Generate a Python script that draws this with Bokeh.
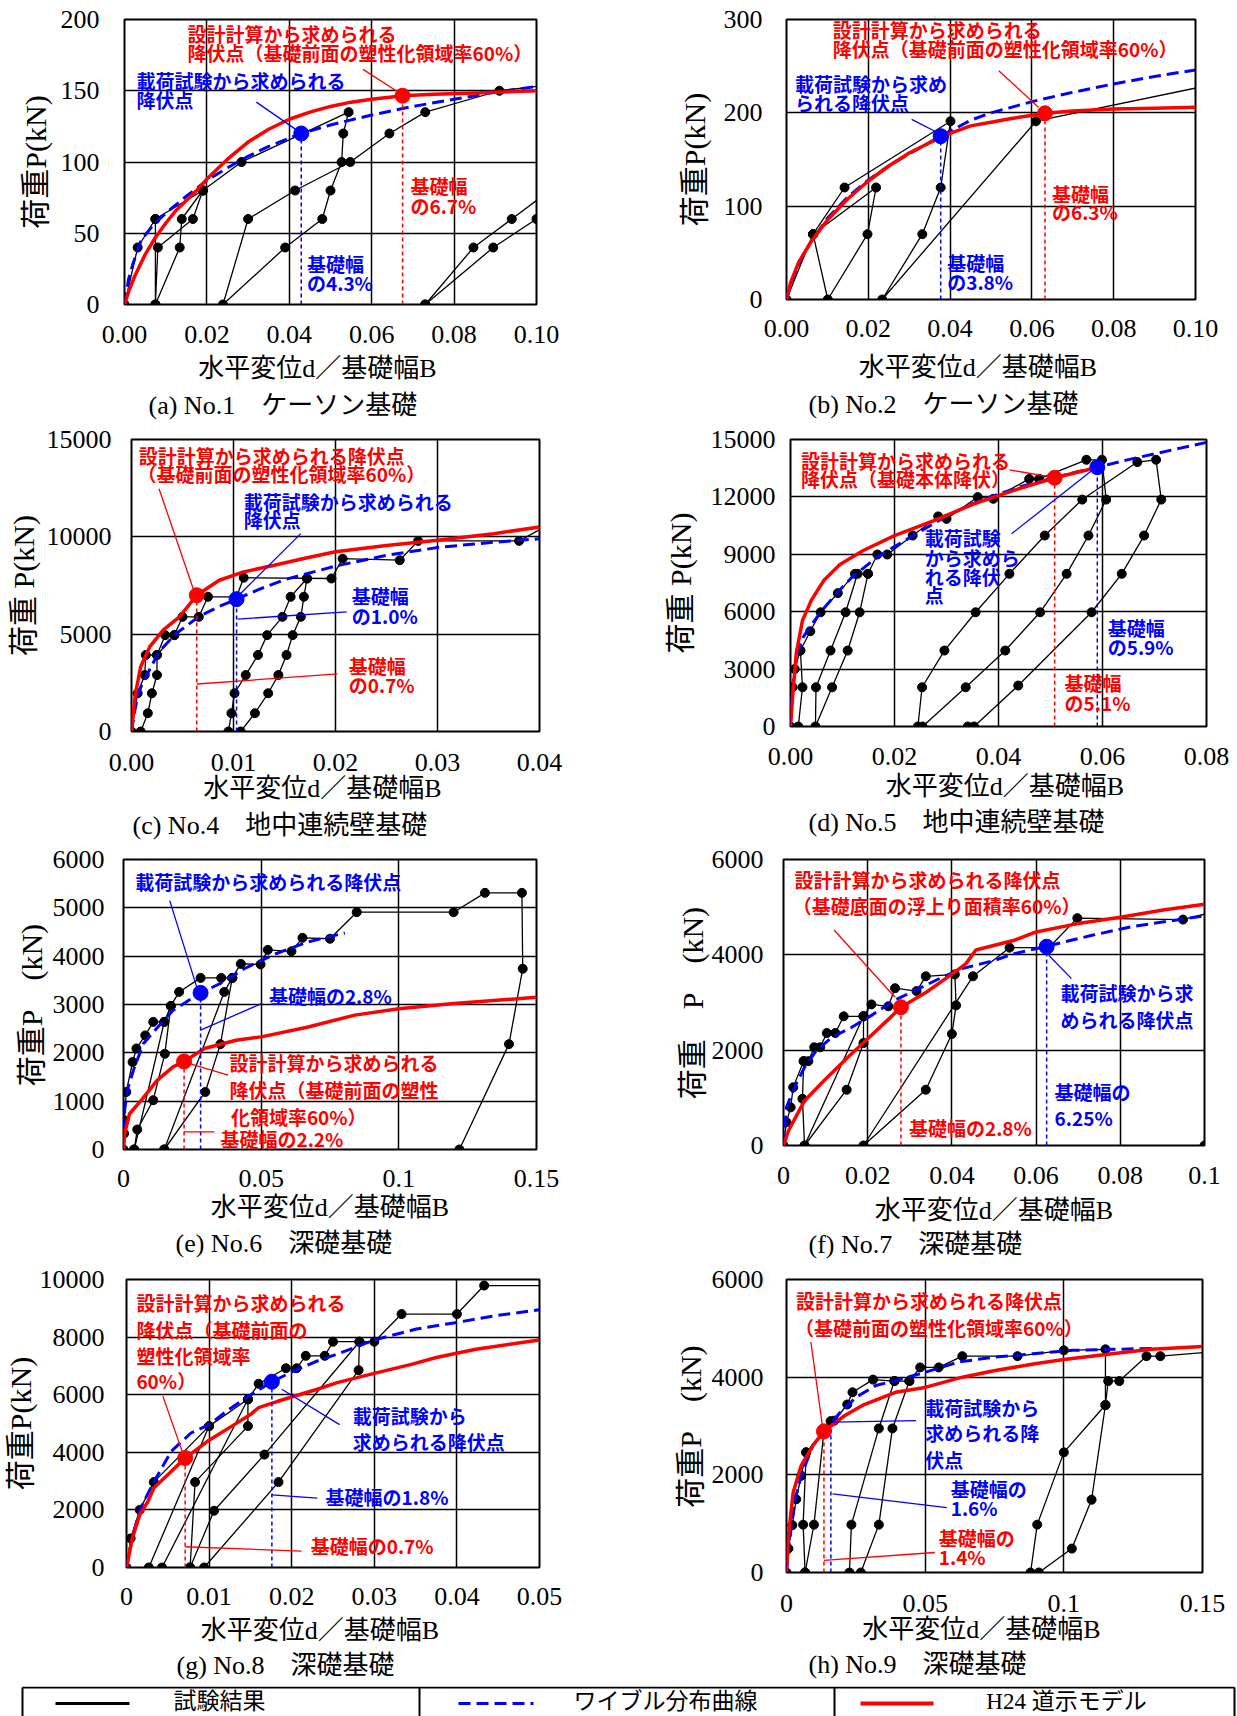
from bokeh.plotting import figure
from bokeh.models import Range1d, FixedTicker, Label, Title
from bokeh.layouts import column, row
from bokeh.embed import file_html
from bokeh.resources import INLINE

SERIF = "Liberation Serif, Noto Sans CJK JP"
GOTHIC = "Noto Sans CJK JP"
RED = "#ff0000"
BLUE = "#0000ff"
XTITLE = "水平変位d／基礎幅B"
LEGEND_LABELS = ["試験結果", "ワイブル分布曲線", "H24 道示モデル"]

# ---------------- (a) No.1 ----------------
a_xticks = [0, 0.02, 0.04, 0.06, 0.08, 0.10]
a_xlabels = ["0.00", "0.02", "0.04", "0.06", "0.08", "0.10"]
a_yticks = [0, 50, 100, 150, 200]
a_ylabels = ["0", "50", "100", "150", "200"]
a_test = [
    ([0, 0.0032, 0.0075, 0.019, 0.0284, 0.0544, 0.0531, 0.0527, 0.050, 0.048, 0.039, 0.0239, 0.030, 0.0414, 0.0548, 0.0643, 0.073, 0.091, 0.106],
     [0, 40, 60, 80, 100, 135, 120, 100, 80, 60, 40, 0, 60, 80, 100, 120, 135, 150, 155]),
    ([0.0075, 0.0075, 0.0081, 0.0166, 0.019], [60, 0, 40, 60, 80]),
    ([0.0075, 0.0134, 0.0139, 0.019], [0, 40, 60, 80]),
    ([0.073, 0.0847, 0.094, 0.106], [0, 40, 60, 86]),
    ([0.073, 0.0895, 0.100], [0, 40, 60]),
]
a_wb_x = [0, 0.001, 0.002, 0.004, 0.007, 0.01, 0.015, 0.02, 0.025, 0.03, 0.035, 0.0429, 0.05, 0.06, 0.07, 0.08, 0.09, 0.10]
a_wb_y = [0, 18, 28, 45, 56, 64, 76, 87, 96, 104, 111, 120, 126, 133, 139, 144, 149, 153]
a_h24_x = [0, 0.001, 0.0025, 0.005, 0.0075, 0.01, 0.0125, 0.015, 0.0175, 0.02, 0.025, 0.03, 0.035, 0.04, 0.045, 0.05, 0.055, 0.06, 0.0675, 0.075, 0.085, 0.10]
a_h24_y = [0, 9, 20, 35, 47, 57, 66, 73, 80, 88, 102, 114, 123, 130, 135, 139, 142, 144, 146.5, 147.5, 148.5, 150]
a_yield_test = (0.0429, 120)
a_yield_design = (0.0675, 146.5)

# ---------------- (b) No.2 ----------------
b_xticks = [0, 0.02, 0.04, 0.06, 0.08, 0.10]
b_xlabels = ["0.00", "0.02", "0.04", "0.06", "0.08", "0.10"]
b_yticks = [0, 100, 200, 300]
b_ylabels = ["0", "100", "200", "300"]
b_test = [
    ([0, 0.0065, 0.0142, 0.0401, 0.0377, 0.0332, 0.0234, 0.061, 0.106], [0, 70, 120, 191, 120, 70, 0, 191, 232]),
    ([0.0065, 0.0101, 0.0198, 0.0219, 0.0065], [70, 0, 70, 120, 70]),
]
b_wb_x = [0, 0.001, 0.003, 0.006, 0.01, 0.015, 0.02, 0.025, 0.03, 0.0377, 0.045, 0.05, 0.06, 0.07, 0.08, 0.09, 0.10]
b_wb_y = [0, 15, 38, 62, 87, 110, 128, 143, 156, 175, 192, 200, 212, 222, 231, 239, 246]
b_h24_x = [0, 0.001, 0.003, 0.006, 0.01, 0.015, 0.02, 0.025, 0.03, 0.035, 0.04, 0.045, 0.05, 0.055, 0.0632, 0.07, 0.08, 0.09, 0.10]
b_h24_y = [0, 18, 40, 62, 85, 108, 127, 143, 157, 168, 178, 186, 190, 194, 199.5, 202, 204, 205, 206]
b_yield_test = (0.0377, 175)
b_yield_design = (0.0632, 199.5)

# ---------------- (c) No.4 ----------------
c_xticks = [0, 0.01, 0.02, 0.03, 0.04]
c_xlabels = ["0.00", "0.01", "0.02", "0.03", "0.04"]
c_yticks = [0, 5000, 10000, 15000]
c_ylabels = ["0", "5000", "10000", "15000"]
c_test = [
    ([0, 0.0006, 0.0013, 0.0014, 0.0025, 0.0033, 0.0042, 0.0050, 0.0066, 0.0075, 0.0103, 0.0110, 0.0196, 0.0207, 0.0263, 0.0281, 0.0380, 0.0412],
     [0, 1965, 2900, 3930, 3930, 4950, 4950, 5890, 5890, 6920, 6920, 7900, 7860, 8880, 8800, 9790, 9790, 10700]),
    ([0.0009, 0.0016, 0.0020, 0.0025, 0.0025, 0.0042], [0, 940, 1965, 2900, 3930, 4950]),
    ([0.0095, 0.0098, 0.0101, 0.0112, 0.0124, 0.0133, 0.0148, 0.0156, 0.0172], [0, 940, 1965, 2900, 3930, 4950, 5890, 6920, 7860]),
    ([0.0172, 0.0169, 0.0166, 0.0158, 0.0152, 0.0144, 0.0134, 0.0121, 0.0107], [7860, 6920, 5890, 4950, 3930, 2900, 1965, 940, 0]),
]
c_wb_x = [0, 0.0003, 0.0006, 0.001, 0.0016, 0.0027, 0.0043, 0.0066, 0.0085, 0.0103, 0.0125, 0.015, 0.02, 0.025, 0.03, 0.035, 0.04]
c_wb_y = [0, 1000, 1800, 2400, 3000, 4100, 5000, 5900, 6400, 6800, 7300, 7800, 8500, 9050, 9450, 9700, 9900]
c_h24_x = [0, 0.0002, 0.0004, 0.0009, 0.0018, 0.0031, 0.0047, 0.0064, 0.0086, 0.011, 0.014, 0.017, 0.02, 0.025, 0.03, 0.0355, 0.04]
c_h24_y = [0, 1100, 1965, 3330, 4360, 5210, 5890, 7000, 7770, 8200, 8540, 8900, 9230, 9550, 9820, 10160, 10500]
c_yield_test = (0.0103, 6800)
c_yield_design = (0.0064, 7000)

# ---------------- (d) No.5 ----------------
d_xticks = [0, 0.02, 0.04, 0.06, 0.08]
d_xlabels = ["0.00", "0.02", "0.04", "0.06", "0.08"]
d_yticks = [0, 3000, 6000, 9000, 12000, 15000]
d_ylabels = ["0", "3000", "6000", "9000", "12000", "15000"]
d_test = [
    ([0, 0.0004, 0.0008, 0.0019, 0.0038, 0.0058, 0.0091, 0.0124, 0.0149, 0.0167, 0.0186, 0.0235, 0.0284, 0.0300, 0.036, 0.039, 0.0459, 0.0478, 0.0569, 0.0599, 0.0607, 0.0573, 0.0531, 0.048, 0.0413, 0.0337, 0.0254],
     [0, 2050, 3000, 3970, 4980, 5970, 6970, 7980, 7980, 8990, 8990, 9980, 10980, 10850, 11990, 11900, 12940, 12940, 13940, 13940, 11860, 9980, 7980, 5970, 3970, 2050, 0]),
    ([0.0245, 0.0253, 0.0296, 0.0356, 0.0421, 0.0489, 0.0561, 0.0667, 0.0703, 0.0713, 0.068, 0.0637, 0.0579, 0.0438, 0.0353, 0.0341],
     [0, 2050, 3970, 5970, 7980, 9980, 11860, 13820, 13940, 11860, 9980, 7980, 5970, 2140, 0, 0]),
    ([0.0149, 0.0133, 0.011, 0.008, 0.0048, 0.0049, 0.0077, 0.0106, 0.0129], [7980, 5970, 3970, 2050, 0, 2050, 3970, 5970, 7980]),
    ([0.0015, 0.0023, 0.0019], [0, 2050, 3970]),
]
d_wb_x = [0, 0.0003, 0.0008, 0.0015, 0.0025, 0.004, 0.006, 0.009, 0.012, 0.0167, 0.02, 0.025, 0.03, 0.035, 0.04, 0.045, 0.05, 0.055, 0.059, 0.065, 0.07, 0.075, 0.08]
d_wb_y = [0, 1800, 3000, 4000, 4700, 5300, 6050, 7000, 7850, 8850, 9400, 10200, 11000, 11650, 12150, 12600, 12950, 13300, 13550, 13950, 14250, 14550, 14850]
d_h24_x = [0, 0.0004, 0.0011, 0.0023, 0.004, 0.0064, 0.0095, 0.014, 0.02, 0.0277, 0.0353, 0.0428, 0.0508, 0.058]
d_h24_y = [0, 1530, 3800, 5540, 6590, 7630, 8470, 9200, 9980, 10770, 11640, 12330, 13000, 13470]
d_yield_test = (0.059, 13550)
d_yield_design = (0.0508, 13000)

# ---------------- (e) No.6 ----------------
e_xticks = [0, 0.05, 0.1, 0.15]
e_xlabels = ["0", "0.05", "0.1", "0.15"]
e_yticks = [0, 1000, 2000, 3000, 4000, 5000, 6000]
e_ylabels = ["0", "1000", "2000", "3000", "4000", "5000", "6000"]
e_test = [
    ([0, 0.0002, 0.0003, 0.001, 0.0033, 0.0047, 0.0079, 0.0108, 0.0148, 0.0172, 0.0202, 0.028, 0.0355, 0.0395, 0.0426, 0.0498, 0.0524, 0.061, 0.065, 0.075, 0.0847, 0.1199, 0.1313, 0.1447, 0.145, 0.14, 0.122],
     [0, 330, 606, 1190, 1810, 2090, 2360, 2640, 2640, 2970, 3260, 3550, 3550, 3550, 3840, 3830, 4130, 4100, 4380, 4360, 4910, 4910, 5310, 5310, 3740, 2180, 0]),
    ([0.0172, 0.015, 0.0108, 0.005, 0.0039], [2970, 1980, 1020, 413, 0]),
    ([0.0039, 0.0148], [0, 2640]),
    ([0.0395, 0.0352, 0.0297, 0.0148], [3550, 2180, 1190, 0]),
    ([0.0148, 0.0366, 0.0395], [0, 3260, 3550]),
]
e_wb_x = [0, 0.0004, 0.0015, 0.0036, 0.0072, 0.0115, 0.018, 0.028, 0.035, 0.0438, 0.0553, 0.0667, 0.0804]
e_wb_y = [0, 810, 1250, 1640, 2190, 2470, 2880, 3240, 3430, 3740, 4050, 4290, 4480]
e_h24_x = [0, 0.0004, 0.0022, 0.0065, 0.0122, 0.018, 0.022, 0.0294, 0.0409, 0.05, 0.0667, 0.084, 0.1, 0.12, 0.15]
e_h24_y = [0, 330, 740, 1020, 1430, 1710, 1820, 2090, 2260, 2330, 2530, 2780, 2910, 3020, 3150]
e_yield_test = (0.028, 3240)
e_yield_design = (0.022, 1820)

# ---------------- (f) No.7 ----------------
f_xticks = [0, 0.02, 0.04, 0.06, 0.08, 0.1]
f_xlabels = ["0", "0.02", "0.04", "0.06", "0.08", "0.1"]
f_yticks = [0, 2000, 4000, 6000]
f_ylabels = ["0", "2000", "4000", "6000"]
f_test = [
    ([0, 0.0007, 0.0017, 0.0023, 0.0048, 0.0059, 0.0073, 0.0087, 0.0103, 0.0123, 0.0143, 0.019, 0.0209, 0.0249, 0.0265, 0.0316, 0.0338, 0.0407, 0.041, 0.040, 0.0338, 0.019, 0.045, 0.0537, 0.063, 0.0698, 0.0949, 0.106],
     [0, 490, 800, 1220, 1770, 1770, 2060, 2060, 2360, 2360, 2710, 2710, 2960, 2920, 3300, 3240, 3550, 3590, 2940, 2340, 1170, 0, 3550, 4150, 4150, 4770, 4740, 4990]),
    ([0.019, 0.019, 0.015, 0.005, 0.0045, 0.0048], [2710, 2150, 1170, 0, 980, 1770]),
    ([0.005, 0.019], [0, 2710]),
    ([0.1], [0]),
]
f_wb_x = [0, 0.0007, 0.0026, 0.005, 0.0078, 0.0115, 0.0162, 0.0209, 0.0265, 0.0321, 0.0377, 0.0424, 0.05, 0.0546, 0.062, 0.0733, 0.0827, 0.1]
f_wb_y = [0, 800, 1220, 1640, 1990, 2270, 2480, 2730, 3050, 3290, 3530, 3710, 3880, 4020, 4170, 4410, 4590, 4820]
f_h24_x = [0, 0.0012, 0.005, 0.0096, 0.0153, 0.02, 0.0246, 0.0279, 0.034, 0.0396, 0.0433, 0.0457, 0.0546, 0.06, 0.0696, 0.08, 0.0902, 0.1]
f_h24_y = [0, 315, 940, 1360, 1850, 2240, 2620, 2900, 3220, 3570, 3810, 4100, 4300, 4480, 4650, 4790, 4940, 5060]
f_yield_test = (0.0625, 4170)
f_yield_design = (0.0279, 2900)

# ---------------- (g) No.8 ----------------
g_xticks = [0, 0.01, 0.02, 0.03, 0.04, 0.05]
g_xlabels = ["0", "0.01", "0.02", "0.03", "0.04", "0.05"]
g_yticks = [0, 2000, 4000, 6000, 8000, 10000]
g_ylabels = ["0", "2000", "4000", "6000", "8000", "10000"]
g_test = [
    ([0, 0.0005, 0.0016, 0.0033, 0.01, 0.0147, 0.016, 0.0193, 0.0206, 0.0217, 0.024, 0.025, 0.030, 0.0333, 0.040, 0.0433, 0.056],
     [0, 1010, 2000, 2965, 4910, 5840, 6380, 6920, 6920, 7350, 7350, 7840, 7840, 8800, 8800, 9790, 9790]),
    ([0.01, 0.0027], [4910, 0]),
    ([0.0043, 0.0147], [0, 5840]),
    ([0.0077, 0.0083, 0.0147, 0.0147], [0, 2965, 4910, 5840]),
    ([0.0077, 0.0106, 0.0167, 0.0282], [0, 1970, 3920, 7840]),
    ([0.0094, 0.0184, 0.0281, 0.0282], [0, 2965, 6850, 7840]),
]
g_wb_x = [0, 0.0007, 0.0016, 0.0033, 0.0054, 0.0078, 0.01, 0.0124, 0.0145, 0.0176, 0.0203, 0.0231, 0.026, 0.03, 0.0351, 0.04, 0.0446, 0.05]
g_wb_y = [0, 1010, 2000, 2965, 4030, 4670, 4960, 5490, 5900, 6450, 6830, 7170, 7460, 7900, 8280, 8510, 8740, 8950]
g_h24_x = [0, 0.0007, 0.0016, 0.0026, 0.0033, 0.005, 0.0071, 0.0098, 0.0131, 0.015, 0.016, 0.0184, 0.0231, 0.0255, 0.03, 0.0346, 0.0375, 0.0423, 0.05]
g_h24_y = [0, 1010, 1830, 2290, 2760, 3220, 3800, 4380, 4970, 5310, 5550, 5780, 6190, 6420, 6740, 7060, 7290, 7580, 7900]
g_yield_test = (0.0176, 6450)
g_yield_design = (0.0071, 3800)

# ---------------- (h) No.9 ----------------
h_xticks = [0, 0.05, 0.1, 0.15]
h_xlabels = ["0", "0.05", "0.1", "0.15"]
h_yticks = [0, 2000, 4000, 6000]
h_ylabels = ["0", "2000", "4000", "6000"]
h_test = [
    ([0, 0.0007, 0.0021, 0.0035, 0.0053, 0.0071, 0.0135, 0.0159, 0.0173, 0.0219, 0.0238, 0.0312, 0.0389, 0.0443, 0.0482, 0.0549, 0.0634, 0.0833, 0.1, 0.115, 0.115, 0.11, 0.1029, 0.091],
     [0, 490, 970, 1500, 1980, 2460, 2890, 3100, 3110, 3440, 3690, 3950, 3920, 3920, 4200, 4200, 4430, 4430, 4550, 4570, 3430, 1490, 490, 0]),
    ([0.088, 0.0904, 0.1, 0.115, 0.116, 0.12, 0.1298, 0.1348, 0.156], [0, 980, 2460, 3430, 3920, 3920, 4430, 4430, 4530]),
    ([0.0067, 0.006, 0.0071], [0, 980, 2460]),
    ([0.0067, 0.0099, 0.0135], [0, 980, 2890]),
    ([0.0227, 0.0234, 0.0333, 0.0389], [0, 980, 2950, 3920]),
    ([0.0268, 0.0333, 0.0382, 0.0443], [0, 980, 2950, 3920]),
]
h_wb_x = [0, 0.0007, 0.0031, 0.0053, 0.0095, 0.0135, 0.0194, 0.0251, 0.0322, 0.0393, 0.05, 0.062, 0.0748, 0.089, 0.1032, 0.1174, 0.1337]
h_wb_y = [0, 490, 1500, 1980, 2600, 2890, 3280, 3590, 3830, 3930, 4100, 4310, 4410, 4480, 4550, 4570, 4590]
h_h24_x = [0, 0.0007, 0.0024, 0.0053, 0.0095, 0.0135, 0.0209, 0.028, 0.0393, 0.05, 0.0634, 0.0748, 0.089, 0.1, 0.1174, 0.1315, 0.15]
h_h24_y = [0, 750, 1640, 2190, 2600, 2890, 3210, 3440, 3690, 3790, 4000, 4130, 4270, 4360, 4480, 4570, 4630]
h_yield_test = (0.016, 3000)
h_yield_design = (0.0135, 2890)


def panel(cfg):
    fw, fh = cfg["size"]
    bl, br, bt, bb = cfg["border"]
    p = figure(width=fw, height=fh, x_range=Range1d(*cfg["xr"]), y_range=Range1d(*cfg["yr"]),
               output_backend="svg", toolbar_location=None,
               min_border_left=bl, min_border_right=br, min_border_top=bt, min_border_bottom=bb)
    p.background_fill_color = "white"
    p.border_fill_color = "white"
    p.outline_line_color = "black"
    p.outline_line_width = 2
    xt = FixedTicker(ticks=cfg["xticks"])
    yt = FixedTicker(ticks=cfg["yticks"])
    p.xaxis.ticker = xt
    p.yaxis.ticker = yt
    p.xgrid.ticker = xt
    p.ygrid.ticker = yt
    p.xaxis.major_label_overrides = dict(zip(cfg["xticks"], cfg["xlabels"]))
    p.yaxis.major_label_overrides = dict(zip(cfg["yticks"], cfg["ylabels"]))
    for ax in (p.xaxis[0], p.yaxis[0]):
        ax.axis_line_color = None
        ax.major_tick_line_color = None
        ax.minor_tick_line_color = None
        ax.major_tick_out = 0
        ax.major_tick_in = 0
        ax.minor_tick_out = 0
        ax.major_label_text_font = "Liberation Serif"
        ax.major_label_text_font_size = "26px"
        ax.major_label_text_color = "black"
        ax.axis_label_text_font = SERIF
        ax.axis_label_text_font_style = "normal"
        ax.axis_label_text_color = "black"
    p.xaxis.axis_label_text_font_size = "26px"
    p.yaxis.axis_label_text_font_size = "30px"
    p.xaxis.axis_label = cfg["xtitle"]
    p.yaxis.axis_label = cfg["ylab"]
    p.xaxis.major_label_standoff = cfg["xstand"]
    p.yaxis.major_label_standoff = cfg["ystand"]
    p.xaxis.axis_label_standoff = cfg["xlstand"]
    p.yaxis.axis_label_standoff = cfg["ylstand"]
    for g in (p.xgrid[0], p.ygrid[0]):
        g.grid_line_color = "black"
        g.grid_line_width = 1.5
    p.add_layout(Title(text=cfg["caption"], align="left", offset=cfg["capoff"], text_font=SERIF,
                       text_font_size="26px", text_font_style="normal", text_color="black",
                       standoff=cfg["capstand"]), "below")

    for xs, ys in cfg["test"]:
        p.line(xs, ys, line_color="black", line_width=1.3)
        p.scatter(xs, ys, size=9, color="black")
    p.line(cfg["wb"][0], cfg["wb"][1], line_color=BLUE, line_width=3, line_dash="12 6")
    p.line(cfg["h24"][0], cfg["h24"][1], line_color=RED, line_width=3.5)
    tx, ty = cfg["ytest"]
    dx, dy = cfg["ydesign"]
    p.segment([tx], [0], [tx], [ty], line_color=BLUE, line_width=1.5, line_dash="4 3")
    p.segment([dx], [0], [dx], [dy], line_color=RED, line_width=1.5, line_dash="4 3")
    if cfg.get("show_test_pt", True):
        p.scatter([tx], [ty], size=15, color=BLUE)
    p.scatter([dx], [dy], size=15, color=RED)
    for lx0, lx1, ly0, ly1, c in cfg["leaders"]:
        p.line([lx0, lx1], [ly0, ly1], line_color=c, line_width=1.3)
    # white boxes first, then all texts on top
    for text, x, y, c, bg in cfg["notes"]:
        if bg:
            p.add_layout(Label(x=x, y=y, text=text, text_alpha=0, text_font=GOTHIC, text_font_size="19px",
                               text_font_style="bold", text_baseline="middle", text_align="left",
                               background_fill_color="white"))
    for text, x, y, c, bg in cfg["notes"]:
        p.add_layout(Label(x=x, y=y, text=text, text_color=c, text_font=GOTHIC, text_font_size="19px",
                           text_font_style="bold", text_baseline="middle", text_align="left"))
    return p


R, B = RED, BLUE
SHIFT_L = "\u3000"   # trailing ideographic space: nudges the centred axis title left
SHIFT_R = "\u2002"   # leading en space: nudges it right
cfgs = {}
cfgs["a"] = dict(size=(620, 426), border=(124, 84, 19, 122), xr=(0, 0.10), yr=(0, 200),
                 xticks=a_xticks, xlabels=a_xlabels, yticks=a_yticks, ylabels=a_ylabels,
                 xtitle=XTITLE + SHIFT_L,
                 ylab="荷重P(kN)", caption="(a) No.1　ケーソン基礎", capoff=24,
                 xstand=21, xlstand=8, capstand=7, ystand=25, ylstand=6,
                 test=a_test, wb=(a_wb_x, a_wb_y), h24=(a_h24_x, a_h24_y),
                 ytest=a_yield_test, ydesign=a_yield_design,
                 leaders=[(0.0579, 0.0665, 165, 149, R), (0.032, 0.042, 142, 122, B)],
                 notes=[("設計計算から求められる", 0.0153, 190, R, True),
                        ("降伏点（基礎前面の塑性化領域率60%）", 0.0153, 177, R, True),
                        ("載荷試験から求められる", 0.0029, 157, B, False),
                        ("降伏点", 0.0029, 144, B, False),
                        ("基礎幅", 0.0694, 83.5, R, False), ("の6.7%", 0.0694, 69.5, R, False),
                        ("基礎幅", 0.0443, 28.5, B, False), ("の4.3%", 0.0443, 15.7, B, False)])
cfgs["b"] = dict(size=(617, 421), border=(166, 42, 19, 122), xr=(0, 0.10), yr=(0, 300),
                 xticks=b_xticks, xlabels=b_xlabels, yticks=b_yticks, ylabels=b_ylabels,
                 xtitle=XTITLE + SHIFT_L,
                 ylab="荷重P(kN)", caption="(b) No.2　ケーソン基礎", capoff=22,
                 xstand=20, xlstand=13, capstand=6, ystand=24, ylstand=10,
                 test=b_test, wb=(b_wb_x, b_wb_y), h24=(b_h24_x, b_h24_y),
                 ytest=b_yield_test, ydesign=b_yield_design,
                 leaders=[(0.0519, 0.0616, 245, 206, R), (0.0306, 0.0364, 193, 180, B)],
                 notes=[("設計計算から求められる", 0.0113, 289, R, True),
                        ("降伏点（基礎前面の塑性化領域率60%）", 0.0113, 269, R, True),
                        ("載荷試験から求め", 0.0021, 231, B, True),
                        ("られる降伏点", 0.0021, 211, B, True),
                        ("基礎幅", 0.0649, 113.5, R, False), ("の6.3%", 0.0649, 94, R, False),
                        ("基礎幅", 0.0393, 39.4, B, False), ("の3.8%", 0.0393, 19.7, B, False)])
cfgs["c"] = dict(size=(620, 419), border=(131, 81, 13, 114), xr=(0, 0.04), yr=(0, 15000),
                 xticks=c_xticks, xlabels=c_xlabels, yticks=c_yticks, ylabels=c_ylabels,
                 xtitle=XTITLE + SHIFT_L,
                 ylab="荷重 P(kN)", caption="(c) No.4　地中連続壁基礎", capoff=1,
                 xstand=22, xlstand=0, capstand=7, ystand=20, ylstand=4,
                 test=c_test, wb=(c_wb_x, c_wb_y), h24=(c_h24_x, c_h24_y),
                 ytest=c_yield_test, ydesign=c_yield_design,
                 leaders=[(0.0027, 0.0061, 12470, 7260, R), (0.0166, 0.0107, 10165, 7090, B),
                          (0.0211, 0.0104, 6150, 5775, B), (0.0202, 0.0064, 2955, 2440, R)],
                 notes=[("設計計算から求められる降伏点", 0.0007, 14200, R, True),
                        ("（基礎前面の塑性化領域率60%）", 0.0006, 13270, R, True),
                        ("載荷試験から求められる", 0.011, 11790, B, True),
                        ("降伏点", 0.011, 10880, B, True),
                        ("基礎幅", 0.0216, 7000, B, False), ("の1.0%", 0.0216, 5980, B, False),
                        ("基礎幅", 0.0213, 3380, R, False), ("の0.7%", 0.0213, 2390, R, False)])
cfgs["d"] = dict(size=(617, 414), border=(170, 31, 13, 114), xr=(0, 0.08), yr=(0, 15000),
                 xticks=d_xticks, xlabels=d_xlabels, yticks=d_yticks, ylabels=d_ylabels,
                 xtitle=SHIFT_R + XTITLE,
                 ylab="荷重 P(kN)", caption="(d) No.5　地中連続壁基礎", capoff=18,
                 xstand=21, xlstand=4, capstand=5, ystand=15, ylstand=11,
                 test=d_test, wb=(d_wb_x, d_wb_y), h24=(d_h24_x, d_h24_y),
                 ytest=d_yield_test, ydesign=d_yield_design,
                 leaders=[(0.0421, 0.0504, 13410, 13030, R), (0.0425, 0.0584, 10070, 13470, B)],
                 notes=[("設計計算から求められる", 0.002, 13900, R, True),
                        ("降伏点（基礎本体降伏）", 0.002, 12940, R, True),
                        ("載荷試験", 0.0258, 9860, B, True), ("から求めら", 0.0258, 8850, B, True),
                        ("れる降伏", 0.0258, 7840, B, True), ("点", 0.0258, 6900, B, True),
                        ("基礎幅", 0.061, 5190, B, False), ("の5.9%", 0.061, 4180, B, False),
                        ("基礎幅", 0.0527, 2320, R, False), ("の5.1%", 0.0527, 1270, R, False)])
cfgs["e"] = dict(size=(620, 419), border=(123, 84, 14, 115), xr=(0, 0.15), yr=(0, 6000),
                 xticks=e_xticks, xlabels=e_xlabels, yticks=e_yticks, ylabels=e_ylabels,
                 xtitle=XTITLE,
                 ylab="荷重P　(kN)", caption="(e) No.6　深礎基礎", capoff=52,
                 xstand=20, xlstand=3, capstand=5, ystand=19, ylstand=2,
                 test=e_test, wb=(e_wb_x, e_wb_y), h24=(e_h24_x, e_h24_y),
                 ytest=e_yield_test, ydesign=e_yield_design,
                 leaders=[(0.0168, 0.0266, 5150, 3360, B), (0.0502, 0.028, 3020, 2470, B),
                          (0.0222, 0.038, 1810, 1540, R), (0.022, 0.033, 365, 365, R)],
                 notes=[("載荷試験から求められる降伏点", 0.0043, 5550, B, True),
                        ("基礎幅の2.8%", 0.0528, 3190, B, True),
                        ("設計計算から求められる", 0.0385, 1790, R, True),
                        ("降伏点（基礎前面の塑性", 0.0385, 1240, R, True),
                        ("化領域率60%）", 0.039, 690, R, True),
                        ("基礎幅の2.2%", 0.0352, 230, R, False)])
cfgs["f"] = dict(size=(617, 415), border=(163, 33, 14, 115), xr=(0, 0.1), yr=(0, 6000),
                 xticks=f_xticks, xlabels=f_xlabels, yticks=f_yticks, ylabels=f_ylabels,
                 xtitle=XTITLE,
                 ylab="荷重　P　(kN)", caption="(f) No.7　深礎基礎", capoff=25,
                 xstand=21, xlstand=9, capstand=1, ystand=20, ylstand=0,
                 test=f_test, wb=(f_wb_x, f_wb_y), h24=(f_h24_x, f_h24_y),
                 ytest=f_yield_test, ydesign=f_yield_design,
                 leaders=[(0.012, 0.0265, 4520, 3110, R), (0.0684, 0.063, 3500, 3990, B)],
                 notes=[("設計計算から求められる降伏点", 0.0026, 5570, R, True),
                        ("（基礎底面の浮上り面積率60%）", 0.0022, 5030, R, True),
                        ("載荷試験から求", 0.0658, 3200, B, True),
                        ("められる降伏点", 0.0658, 2640, B, True),
                        ("基礎幅の", 0.0644, 1140, B, True), ("6.25%", 0.0644, 590, B, True),
                        ("基礎幅の2.8%", 0.0298, 385, R, True)])
cfgs["g"] = dict(size=(620, 417), border=(125, 81, 15, 113), xr=(0, 0.05), yr=(0, 10000),
                 xticks=g_xticks, xlabels=g_xlabels, yticks=g_yticks, ylabels=g_ylabels,
                 xtitle=XTITLE + SHIFT_L,
                 ylab="荷重P(kN)", caption="(g) No.8　深礎基礎", capoff=50,
                 xstand=20, xlstand=8, capstand=3, ystand=22, ylstand=0,
                 test=g_test, wb=(g_wb_x, g_wb_y), h24=(g_h24_x, g_h24_y),
                 ytest=g_yield_test, ydesign=g_yield_design,
                 leaders=[(0.0044, 0.0068, 5950, 3980, R), (0.0258, 0.0188, 4960, 6190, B),
                          (0.0231, 0.0176, 2410, 2520, B), (0.0212, 0.0071, 570, 720, R)],
                 notes=[("設計計算から求められる", 0.0012, 9210, R, True),
                        ("降伏点（基礎前面の", 0.0012, 8280, R, True),
                        ("塑性化領域率", 0.0012, 7350, R, True),
                        ("60%）", 0.0012, 6480, R, True),
                        ("載荷試験から", 0.0274, 5290, B, True),
                        ("求められる降伏点", 0.0274, 4380, B, True),
                        ("基礎幅の1.8%", 0.0241, 2465, B, True),
                        ("基礎幅の0.7%", 0.0223, 780, R, True)])
cfgs["h"] = dict(size=(617, 422), border=(166, 35, 15, 113), xr=(0, 0.15), yr=(0, 6000),
                 xticks=h_xticks, xlabels=h_xlabels, yticks=h_yticks, ylabels=h_ylabels,
                 xtitle=XTITLE + SHIFT_L,
                 ylab="荷重P　(kN)", caption="(h) No.9　深礎基礎", capoff=22,
                 xstand=22, xlstand=0, capstand=3, ystand=23, ylstand=2,
                 test=h_test, wb=(h_wb_x, h_wb_y), h24=(h_h24_x, h_h24_y),
                 ytest=h_yield_test, ydesign=h_yield_design, show_test_pt=False,
                 leaders=[(0.0088, 0.0131, 4720, 2940, R), (0.0467, 0.0166, 3110, 3080, B),
                          (0.0578, 0.0166, 1330, 1610, B), (0.0535, 0.0135, 410, 250, R)],
                 notes=[("設計計算から求められる降伏点", 0.0034, 5570, R, True),
                        ("（基礎前面の塑性化領域率60%）", 0.0031, 5020, R, True),
                        ("載荷試験から", 0.05, 3380, B, True),
                        ("求められる降", 0.05, 2860, B, True),
                        ("伏点", 0.05, 2320, B, True),
                        ("基礎幅の", 0.0592, 1720, B, False), ("1.6%", 0.0592, 1330, B, False),
                        ("基礎幅の", 0.0549, 720, R, False), ("1.4%", 0.0549, 320, R, False)])

figs = {k: panel(v) for k, v in cfgs.items()}

# ---------------- legend strip ----------------
leg = figure(width=1237, height=30, x_range=Range1d(0, 1237), y_range=Range1d(0, 30),
             output_backend="svg", toolbar_location=None, x_axis_type=None, y_axis_type=None,
             min_border=0)
leg.grid.visible = False
leg.outline_line_color = None
leg.background_fill_color = "white"
leg.border_fill_color = "white"
leg.segment(x0=[22, 22, 1234, 419, 834], y0=[29, -2, -2, -2, -2],
            x1=[1234, 22, 1234, 419, 834], y1=[29, 29, 29, 29, 29], line_color="black", line_width=2)
leg.line([55, 129], [13, 13], line_color="black", line_width=3)
leg.line([458, 533], [13, 13], line_color=BLUE, line_width=3, line_dash="12 6")
leg.line([860, 933], [13, 13], line_color=RED, line_width=4)
for txt, cx in zip(LEGEND_LABELS, [219, 665, 1066]):
    leg.add_layout(Label(x=cx, y=15, text=txt, text_align="center", text_baseline="middle",
                         text_font=SERIF, text_font_size="23px", text_color="black"))

layout = column(row(figs["a"], figs["b"]), row(figs["c"], figs["d"]),
                row(figs["e"], figs["f"]), row(figs["g"], figs["h"]), leg)

open("out.html", "w").write(file_html(layout, INLINE))
